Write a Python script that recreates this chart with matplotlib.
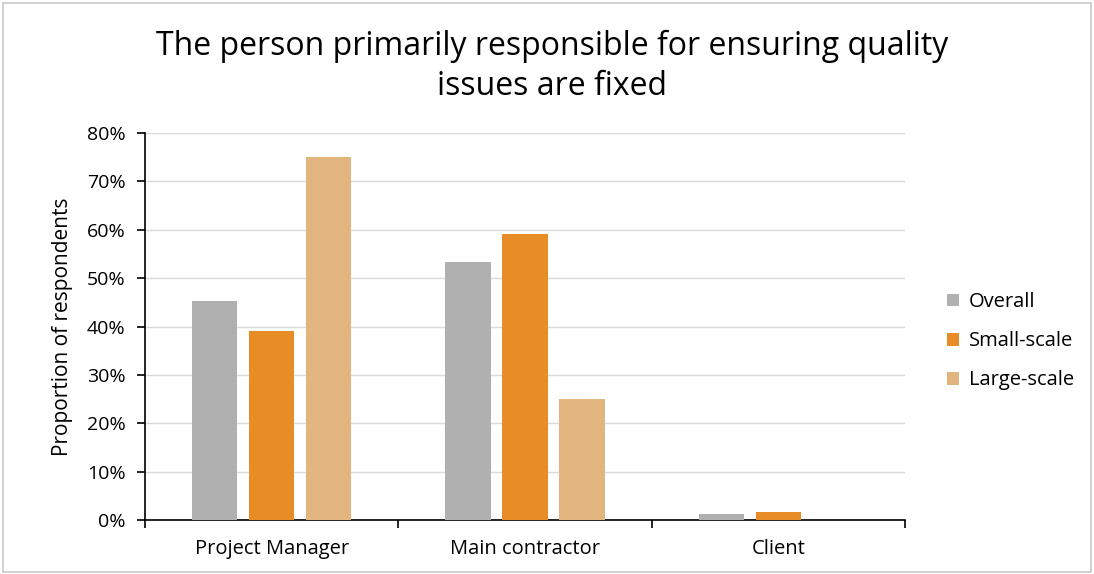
import matplotlib
matplotlib.use("Agg")
import matplotlib.pyplot as plt
from matplotlib.patches import Rectangle
from matplotlib.ticker import PercentFormatter, FixedLocator
import numpy as np

categories = ["Project Manager", "Main contractor", "Client"]
series_names = ["Overall", "Small-scale", "Large-scale"]
overall = [45.2, 53.3, 1.2]
small_scale = [39.0, 59.1, 1.6]
large_scale = [75.0, 25.0, 0.0]
colors = ["#b0b0b0", "#e88c27", "#e2b57f"]

plt.rcParams["font.family"] = ["Open Sans", "DejaVu Sans"]

fig = plt.figure(figsize=(10.94, 5.74), dpi=100)
fig.patches.append(Rectangle((0.003, 0.003), 0.994, 0.991, transform=fig.transFigure,
                             fill=False, edgecolor="#c8c8c8", linewidth=1.2))

ax = fig.add_axes([145 / 1094, 1 - 520 / 574, (905 - 145) / 1094, (520 - 133) / 574])

x = np.arange(len(categories))
pitch = 0.225
width = 0.18
for i, (name, vals) in enumerate(zip(series_names, [overall, small_scale, large_scale])):
    ax.bar(x + (i - 1) * pitch, vals, width, color=colors[i], label=name, zorder=3)

ax.set_xlim(-0.5, len(categories) - 0.5)
ax.set_ylim(0, 80)
ax.yaxis.set_major_locator(FixedLocator(np.arange(0, 81, 10)))
ax.yaxis.set_major_formatter(PercentFormatter(decimals=0))
ax.grid(axis="y", color="#d9d9d9", linewidth=1, zorder=0)

ax.set_xticks(x)
ax.set_xticklabels(categories, fontsize=14.5)
ax.tick_params(axis="x", length=0, pad=14)
ax.set_xticks(np.arange(-0.5, len(categories)), minor=True)
ax.tick_params(axis="x", which="minor", length=6, width=1.2, direction="out")
ax.tick_params(axis="y", labelsize=14, length=6, width=1.2, direction="out", pad=8)

for s in ["top", "right"]:
    ax.spines[s].set_visible(False)
for s in ["left", "bottom"]:
    ax.spines[s].set_linewidth(1.2)

ax.set_ylabel("Proportion of respondents", fontsize=15, labelpad=10)

fig.text(552 / 1094, 1 - 66 / 574,
         "The person primarily responsible for ensuring quality\nissues are fixed",
         ha="center", va="center", fontsize=23, linespacing=1.28)

leg = ax.legend(loc="center left", bbox_to_anchor=(1.031, 0.462), frameon=False,
                fontsize=14.5, handlelength=0.6, handleheight=0.6, labelspacing=0.95,
                handletextpad=0.5)

fig.savefig("out.png", dpi=100)
